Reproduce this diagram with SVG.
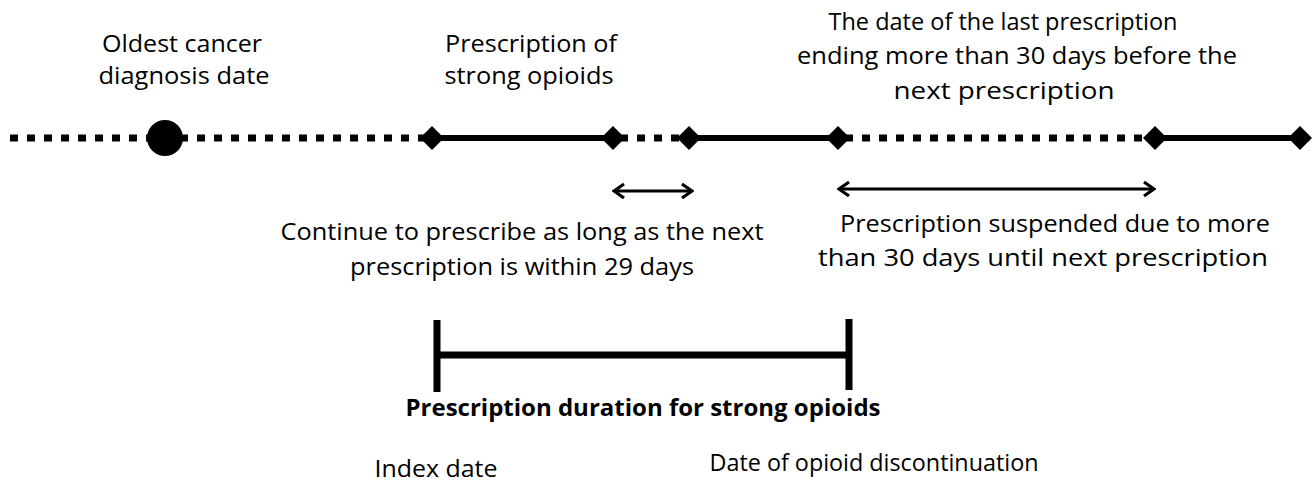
<svg xmlns="http://www.w3.org/2000/svg" width="1313" height="482" viewBox="0 0 1313 482">
<style>
text{font-family:"Open Sans","Noto Sans","Liberation Sans",sans-serif;font-size:24px;fill:#000;text-anchor:middle}
.b{font-weight:bold}
.solid{stroke:#000;stroke-width:6;fill:none}
.dot{stroke:#000;stroke-width:7;stroke-dasharray:8 9;fill:none}
.arr{stroke:#000;stroke-width:2.8;fill:none;marker-start:url(#ah);marker-end:url(#ah)}
.br{stroke:#000;stroke-width:7;fill:none}
</style>
<defs>
<marker id="ah" viewBox="0 0 14 18" refX="12" refY="9" markerWidth="14" markerHeight="18" markerUnits="userSpaceOnUse" orient="auto-start-reverse">
<path d="M2,2 L12,9 L2,16" fill="none" stroke="#000" stroke-width="3.2" stroke-linejoin="miter"/>
</marker>
<path id="dm" d="M0,-12 L12,0 L0,12 L-12,0 Z" fill="#000"/>
</defs>
<g id="connectors">
<path class="dot" d="M10,138 H432"/>
<path class="solid" d="M432,138 H613"/>
<path class="dot" d="M620,138 H689"/>
<path class="solid" d="M689,138 H838"/>
<path class="dot" d="M845,138 H1155"/>
<path class="solid" d="M1155,138 H1300"/>
<path class="arr" d="M614,191 H692"/>
<path class="arr" d="M839,189 H1154"/>
</g>
<g id="cancer-dx">
<circle cx="165" cy="138" r="18" fill="#000"/>
<text x="182" y="52" textLength="160" lengthAdjust="spacingAndGlyphs">Oldest cancer</text>
<text x="184" y="84" textLength="171" lengthAdjust="spacingAndGlyphs">diagnosis date</text>
</g>
<g id="markers">
<use href="#dm" x="432" y="138"/>
<use href="#dm" x="613" y="138"/>
<use href="#dm" x="689" y="138"/>
<use href="#dm" x="838" y="138"/>
<use href="#dm" x="1155" y="138"/>
<use href="#dm" x="1300" y="138"/>
</g>
<g id="strong-opioids">
<text x="531" y="52" textLength="172" lengthAdjust="spacingAndGlyphs">Prescription of</text>
<text x="529" y="84" textLength="169" lengthAdjust="spacingAndGlyphs">strong opioids</text>
</g>
<g id="last-prescription">
<text x="1003" y="30" textLength="349" lengthAdjust="spacingAndGlyphs">The date of the last prescription</text>
<text x="1017" y="64" textLength="440" lengthAdjust="spacingAndGlyphs">ending more than 30 days before the</text>
<text x="1004" y="99" textLength="221" lengthAdjust="spacingAndGlyphs">next prescription</text>
</g>
<g id="continue">
<text x="522" y="240" textLength="483" lengthAdjust="spacingAndGlyphs">Continue to prescribe as long as the next</text>
<text x="522" y="275" textLength="344" lengthAdjust="spacingAndGlyphs">prescription is within 29 days</text>
</g>
<g id="suspended">
<text x="1055" y="232" textLength="430" lengthAdjust="spacingAndGlyphs">Prescription suspended due to more</text>
<text x="1043" y="266" textLength="450" lengthAdjust="spacingAndGlyphs">than 30 days until next prescription</text>
</g>
<g id="duration">
<path class="br" d="M437,320 V392 M849,319 V390 M437,355 H849"/>
<text class="b" x="643" y="416" textLength="475" lengthAdjust="spacingAndGlyphs">Prescription duration for strong opioids</text>
</g>
<g id="index-date">
<text x="436" y="477" textLength="123" lengthAdjust="spacingAndGlyphs">Index date</text>
</g>
<g id="discontinuation">
<text x="874" y="471" textLength="329" lengthAdjust="spacingAndGlyphs">Date of opioid discontinuation</text>
</g>
</svg>
